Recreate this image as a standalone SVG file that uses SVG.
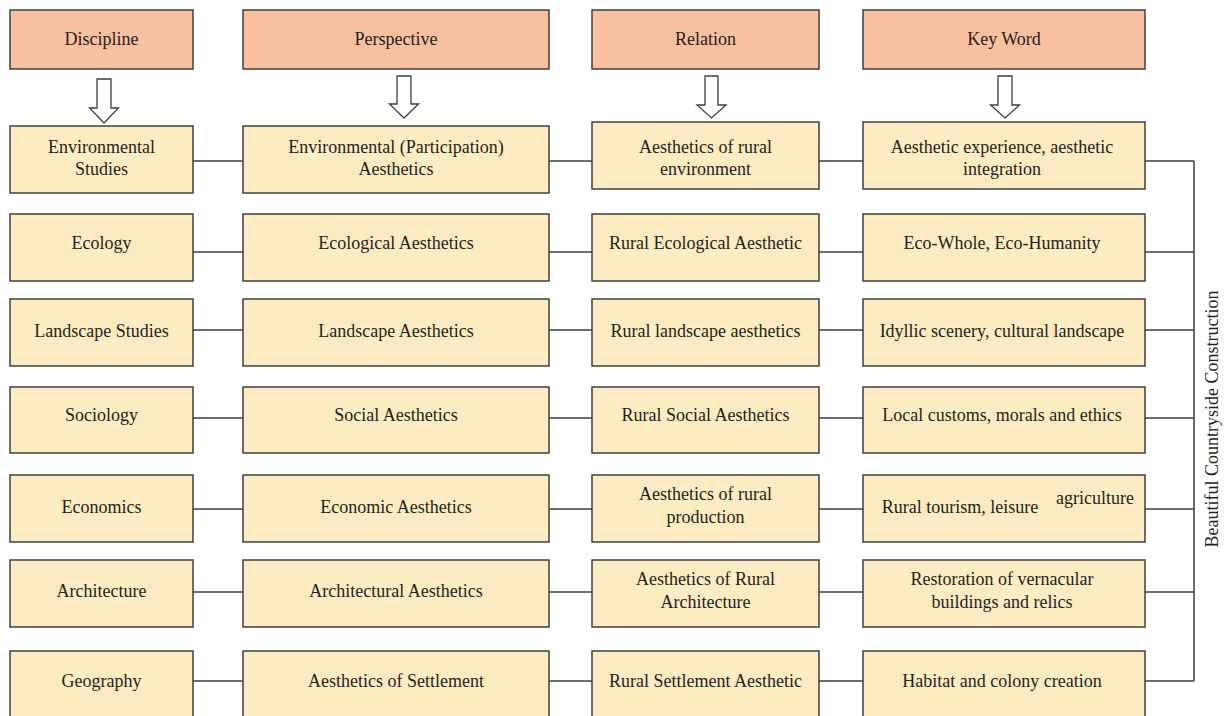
<svg xmlns="http://www.w3.org/2000/svg" width="1224" height="716" viewBox="0 0 1224 716">
<style>
.hd{fill:#F9C0A0;stroke:#3f3f3f;stroke-width:1.5}
.bx{fill:#FDECC2;stroke:#3f3f3f;stroke-width:1.5}
.ar{fill:#ffffff;stroke:#3f3f3f;stroke-width:1.3;stroke-linejoin:miter}
.t{font-family:"Liberation Serif","Times New Roman",serif;font-size:18px;fill:#231f20;text-anchor:middle}
.ln{stroke:#3f3f3f;stroke-width:1.5;fill:none}
</style>
<rect width="1224" height="716" fill="#ffffff"/>
<g id="headers">
<g id="h-discipline"><rect class="hd" x="10" y="10" width="183" height="59"/><text class="t" x="101.5" y="45">Discipline</text></g>
<g id="h-perspective"><rect class="hd" x="243" y="10" width="306" height="59"/><text class="t" x="396" y="45">Perspective</text></g>
<g id="h-relation"><rect class="hd" x="592" y="10" width="227" height="59"/><text class="t" x="705.5" y="45">Relation</text></g>
<g id="h-keyword"><rect class="hd" x="863" y="10" width="282" height="59"/><text class="t" x="1004" y="45">Key Word</text></g>
</g>
<g id="arrows">
<polygon class="ar" points="97,79 111,79 111,108 118.5,108 104,123 89.5,108 97,108"/>
<polygon class="ar" points="397,76 411,76 411,104 418.5,104 404,118 389.5,104 397,104"/>
<polygon class="ar" points="705,76 718,76 718,105 726,105 711.5,118 697,105 705,105"/>
<polygon class="ar" points="998,76 1012,76 1012,105 1019.5,105 1005,118 990.5,105 998,105"/>
</g>
<g id="connectors">
<path class="ln" d="M193,161H243M549,161H592M819,161H863M1145,161H1194"/>
<path class="ln" d="M193,252H243M549,252H592M819,252H863M1145,252H1194"/>
<path class="ln" d="M193,330H243M549,330H592M819,330H863M1145,330H1194"/>
<path class="ln" d="M193,418H243M549,418H592M819,418H863M1145,418H1194"/>
<path class="ln" d="M193,509H243M549,509H592M819,509H863M1145,509H1194"/>
<path class="ln" d="M193,592H243M549,592H592M819,592H863M1145,592H1194"/>
<path class="ln" d="M193,681H243M549,681H592M819,681H863M1145,681H1194"/>
<path class="ln" d="M1194,161V681"/>
</g>
<g id="row1">
<g id="n-env-studies"><rect class="bx" x="10" y="126" width="183" height="67"/><text class="t" x="101.5" y="153">Environmental</text><text class="t" x="101.5" y="175">Studies</text></g>
<g id="n-env-aesthetics"><rect class="bx" x="243" y="126" width="306" height="67"/><text class="t" x="396" y="153">Environmental (Participation)</text><text class="t" x="396" y="175">Aesthetics</text></g>
<g id="n-rural-env"><rect class="bx" x="592" y="122" width="227" height="67"/><text class="t" x="705.5" y="153">Aesthetics of rural</text><text class="t" x="705.5" y="175">environment</text></g>
<g id="n-aes-exp"><rect class="bx" x="863" y="122" width="282" height="67"/><text class="t" x="1002" y="153">Aesthetic experience, aesthetic</text><text class="t" x="1002" y="175">integration</text></g>
</g>
<g id="row2">
<g id="n-ecology"><rect class="bx" x="10" y="214" width="183" height="67"/><text class="t" x="101.5" y="249">Ecology</text></g>
<g id="n-eco-aes"><rect class="bx" x="243" y="214" width="306" height="67"/><text class="t" x="396" y="249">Ecological Aesthetics</text></g>
<g id="n-rural-eco"><rect class="bx" x="592" y="214" width="227" height="67"/><text class="t" x="705.5" y="249">Rural Ecological Aesthetic</text></g>
<g id="n-eco-whole"><rect class="bx" x="863" y="214" width="282" height="67"/><text class="t" x="1002" y="249">Eco-Whole, Eco-Humanity</text></g>
</g>
<g id="row3">
<g id="n-landscape"><rect class="bx" x="10" y="299" width="183" height="67"/><text class="t" x="101.5" y="337">Landscape Studies</text></g>
<g id="n-land-aes"><rect class="bx" x="243" y="299" width="306" height="67"/><text class="t" x="396" y="337">Landscape Aesthetics</text></g>
<g id="n-rural-land"><rect class="bx" x="592" y="299" width="227" height="67"/><text class="t" x="705.5" y="337">Rural landscape aesthetics</text></g>
<g id="n-idyllic"><rect class="bx" x="863" y="299" width="282" height="67"/><text class="t" x="1002" y="337">Idyllic scenery, cultural landscape</text></g>
</g>
<g id="row4">
<g id="n-sociology"><rect class="bx" x="10" y="387" width="183" height="66"/><text class="t" x="101.5" y="421">Sociology</text></g>
<g id="n-social-aes"><rect class="bx" x="243" y="387" width="306" height="66"/><text class="t" x="396" y="421">Social Aesthetics</text></g>
<g id="n-rural-social"><rect class="bx" x="592" y="387" width="227" height="66"/><text class="t" x="705.5" y="421">Rural Social Aesthetics</text></g>
<g id="n-customs"><rect class="bx" x="863" y="387" width="282" height="66"/><text class="t" x="1002" y="421">Local customs, morals and ethics</text></g>
</g>
<g id="row5">
<g id="n-economics"><rect class="bx" x="10" y="475" width="183" height="67"/><text class="t" x="101.5" y="513">Economics</text></g>
<g id="n-econ-aes"><rect class="bx" x="243" y="475" width="306" height="67"/><text class="t" x="396" y="513">Economic Aesthetics</text></g>
<g id="n-rural-prod"><rect class="bx" x="592" y="475" width="227" height="67"/><text class="t" x="705.5" y="500">Aesthetics of rural</text><text class="t" x="705.5" y="523">production</text></g>
<g id="n-tourism"><rect class="bx" x="863" y="475" width="282" height="67"/><text class="t" x="960" y="513">Rural tourism, leisure</text><text class="t" x="1095" y="504">agriculture</text></g>
</g>
<g id="row6">
<g id="n-architecture"><rect class="bx" x="10" y="560" width="183" height="67"/><text class="t" x="101.5" y="597">Architecture</text></g>
<g id="n-arch-aes"><rect class="bx" x="243" y="560" width="306" height="67"/><text class="t" x="396" y="597">Architectural Aesthetics</text></g>
<g id="n-rural-arch"><rect class="bx" x="592" y="560" width="227" height="67"/><text class="t" x="705.5" y="585">Aesthetics of Rural</text><text class="t" x="705.5" y="608">Architecture</text></g>
<g id="n-restoration"><rect class="bx" x="863" y="560" width="282" height="67"/><text class="t" x="1002" y="585">Restoration of vernacular</text><text class="t" x="1002" y="608">buildings and relics</text></g>
</g>
<g id="row7">
<g id="n-geography"><rect class="bx" x="10" y="651" width="183" height="70"/><text class="t" x="101.5" y="687">Geography</text></g>
<g id="n-settle-aes"><rect class="bx" x="243" y="651" width="306" height="70"/><text class="t" x="396" y="687">Aesthetics of Settlement</text></g>
<g id="n-rural-settle"><rect class="bx" x="592" y="651" width="227" height="70"/><text class="t" x="705.5" y="687">Rural Settlement Aesthetic</text></g>
<g id="n-habitat"><rect class="bx" x="863" y="651" width="282" height="70"/><text class="t" x="1002" y="687">Habitat and colony creation</text></g>
</g>
<g id="bracket-label">
<text class="t" transform="translate(1218,419) rotate(-90)">Beautiful Countryside Construction</text>
</g>
</svg>
